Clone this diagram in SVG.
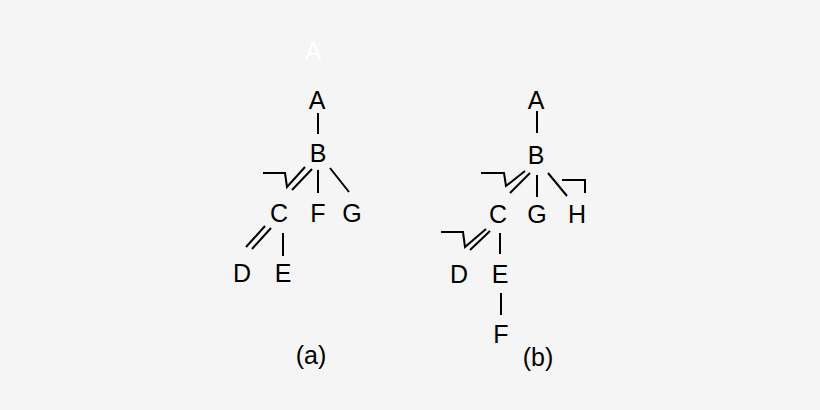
<svg xmlns="http://www.w3.org/2000/svg" width="820" height="410" viewBox="0 0 820 410">
<style>
text{font-family:"Liberation Sans",Arial,sans-serif;font-size:25px;fill:#000;text-anchor:middle}
.b{stroke:#000;stroke-width:2;fill:none;stroke-linecap:butt;stroke-linejoin:miter}
</style>
<rect width="820" height="410" fill="#f5f5f5"/>
<text x="313" y="60" style="fill:#ffffff">A</text>
<g id="connectors" class="b">
<line x1="318" y1="113" x2="318" y2="134"/>
<polyline points="263,173 285,173 287,187 305,167"/>
<line x1="292" y1="190" x2="312" y2="169"/>
<line x1="318" y1="170" x2="318" y2="193"/>
<line x1="330" y1="168" x2="349" y2="192"/>
<line x1="246" y1="247" x2="265" y2="226"/>
<line x1="252" y1="249" x2="271" y2="228"/>
<line x1="283" y1="233" x2="283" y2="256"/>
<line x1="537" y1="111" x2="537" y2="133"/>
<polyline points="481,173 504,173 506,186 525,171"/>
<line x1="510" y1="193" x2="530" y2="173"/>
<line x1="537" y1="175" x2="537" y2="197"/>
<line x1="548" y1="173" x2="567" y2="196"/>
<polyline points="562,180 585,180 585,193"/>
<polyline points="441,232 463,232 465,247 486,229"/>
<line x1="470" y1="250" x2="490" y2="231"/>
<line x1="500" y1="233" x2="500" y2="254"/>
<line x1="501" y1="293" x2="501" y2="315"/>
</g>
<g id="a-A"><text x="317" y="109">A</text></g>
<g id="a-B"><text x="318" y="162">B</text></g>
<g id="a-C"><text x="279" y="222">C</text></g>
<g id="a-F"><text x="318" y="222">F</text></g>
<g id="a-G"><text x="352" y="222">G</text></g>
<g id="a-D"><text x="242" y="282">D</text></g>
<g id="a-E"><text x="283" y="282">E</text></g>
<g id="b-A"><text x="536" y="109">A</text></g>
<g id="b-B"><text x="536" y="164">B</text></g>
<g id="b-C"><text x="498" y="223">C</text></g>
<g id="b-G"><text x="537" y="223">G</text></g>
<g id="b-H"><text x="577" y="223">H</text></g>
<g id="b-D"><text x="459" y="283">D</text></g>
<g id="b-E"><text x="500" y="283">E</text></g>
<g id="b-F"><text x="501" y="343">F</text></g>
<g id="captions">
<text x="311" y="364">(a)</text>
<text x="538" y="366">(b)</text>
</g>
</svg>
